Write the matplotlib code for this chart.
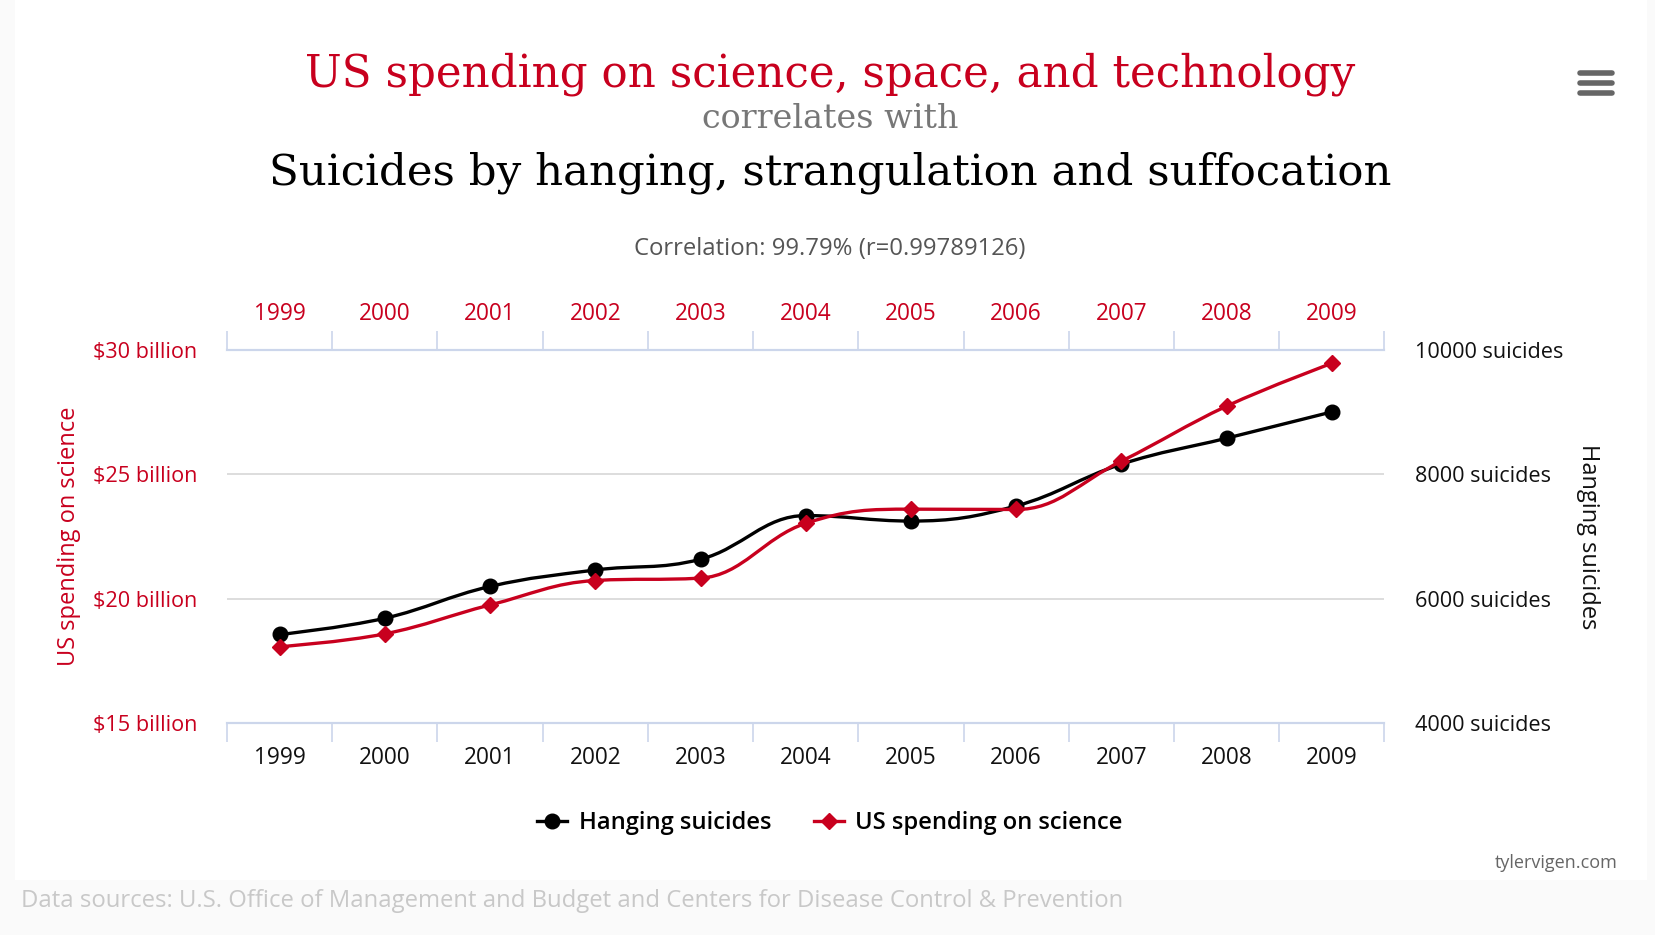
#!/usr/bin/env python3

"""
    US spending on science vs. hanging suicides (1999-2009)
    Dual-axis spline chart in the tylervigen.com style
"""

import matplotlib
matplotlib.use("Agg")
import matplotlib.pyplot as plt
from matplotlib.path import Path
from matplotlib.patches import PathPatch, Rectangle
from matplotlib.lines import Line2D
import numpy as np

plt.rcParams['font.family'] = ['Open Sans', 'DejaVu Sans']

# DATA
years = ['1999', '2000', '2001', '2002', '2003', '2004',
         '2005', '2006', '2007', '2008', '2009']
spending = [18.079, 18.594, 19.753, 20.734, 20.831, 23.029,
            23.597, 23.584, 25.525, 27.731, 29.449]   # billion $
hangings = [5427, 5688, 6198, 6462, 6635, 7336,
            7248, 7491, 8161, 8578, 9000]

spend_ticks = [15, 20, 25, 30]
spend_labels = ['$15 billion', '$20 billion', '$25 billion', '$30 billion']
hang_ticks = [4000, 6000, 8000, 10000]
hang_labels = ['4000 suicides', '6000 suicides', '8000 suicides', '10000 suicides']

RED = '#c8001e'
AXIS_COL = '#ccd6eb'
GRID_COL = '#dadada'


def spline_path(xs, ys, smoothing=1.5):
    """Highcharts-like spline through the points, as a bezier path."""
    xs = np.asarray(xs, float)
    ys = np.asarray(ys, float)
    n = len(xs)
    left = [(xs[i], ys[i]) for i in range(n)]
    right = [(xs[i], ys[i]) for i in range(n)]
    denom = smoothing + 1
    for i in range(1, n - 1):
        lx = (smoothing * xs[i] + xs[i - 1]) / denom
        ly = (smoothing * ys[i] + ys[i - 1]) / denom
        rx = (smoothing * xs[i] + xs[i + 1]) / denom
        ry = (smoothing * ys[i] + ys[i + 1]) / denom
        corr = (ry - ly) * (rx - xs[i]) / (rx - lx) + ys[i] - ry
        ly += corr
        ry += corr
        # avoid overshooting the neighbouring points
        if ly > ys[i - 1] and ly > ys[i]:
            ly = max(ys[i - 1], ys[i])
            ry = 2 * ys[i] - ly
        elif ly < ys[i - 1] and ly < ys[i]:
            ly = min(ys[i - 1], ys[i])
            ry = 2 * ys[i] - ly
        if ry > ys[i + 1] and ry > ys[i]:
            ry = max(ys[i + 1], ys[i])
            ly = 2 * ys[i] - ry
        elif ry < ys[i + 1] and ry < ys[i]:
            ry = min(ys[i + 1], ys[i])
            ly = 2 * ys[i] - ry
        left[i] = (lx, ly)
        right[i] = (rx, ry)
    verts = [(xs[0], ys[0])]
    codes = [Path.MOVETO]
    for i in range(1, n):
        verts += [right[i - 1], left[i], (xs[i], ys[i])]
        codes += [Path.CURVE4] * 3
    return Path(verts, codes)


fig = plt.figure(figsize=(16.56, 9.35), dpi=100, facecolor='#fafafa')
W, H = 1656.0, 935.0

# white card behind the chart
fig.patches.append(Rectangle((15 / W, 1 - 880 / H), (1647 - 15) / W, 880 / H,
                             transform=fig.transFigure, facecolor='white',
                             edgecolor='none', zorder=-1))

ax = fig.add_axes([227 / W, 1 - 723.4 / H, (1384.5 - 227) / W, (723.4 - 349.6) / H])
ax.set_facecolor('none')
ax2 = ax.twinx()
ax2.set_facecolor('none')

x = np.arange(len(years))

ax.set_xlim(-0.5, len(years) - 0.5)
ax.set_ylim(15, 30)
ax2.set_ylim(4000, 10000)

# gridlines
for t in spend_ticks[1:-1]:
    ax2.axhline(4000 + (t - 15) * 400, color=GRID_COL, lw=1.3, zorder=0)

# series
ax2.add_patch(PathPatch(spline_path(x, hangings), facecolor='none',
                        edgecolor='black', lw=2.4, zorder=3))
ax2.plot(x, hangings, 'o', color='black', ms=10.5, zorder=4)
ax.add_patch(PathPatch(spline_path(x, spending), facecolor='none',
                       edgecolor=RED, lw=2.4, zorder=3))
ax.plot(x, spending, 'D', color=RED, ms=8, zorder=4)
ax.set_zorder(ax2.get_zorder() + 1)

# spines
for a in (ax, ax2):
    for s in ('left', 'right'):
        a.spines[s].set_visible(False)
    for s in ('top', 'bottom'):
        a.spines[s].set_color(AXIS_COL)
        a.spines[s].set_linewidth(1.5)

# x ticks: boundaries as major ticks, labels on minor ticks
boundaries = np.arange(-0.5, len(years), 1.0)
ax.set_xticks(boundaries)
ax.set_xticklabels([])
ax.set_xticks(x, minor=True)
ax.set_xticklabels(years, minor=True)
ax.tick_params(axis='x', which='major', length=13.5, width=1.2, color=AXIS_COL,
               top=True, bottom=True, direction='out')
ax.tick_params(axis='x', which='minor', length=0, labelsize=16.3, pad=16,
               labelcolor='#111111', top=False)

top = ax.secondary_xaxis('top')
top.set_xticks(x)
top.set_xticklabels(years)
top.tick_params(length=0, labelsize=16.3, pad=17, labelcolor=RED)
top.spines['top'].set_visible(False)
ax2.tick_params(axis='x', which='both', length=0)

# y axes
ax.set_yticks(spend_ticks)
ax.set_yticklabels(spend_labels)
ax.tick_params(axis='y', length=0, pad=21.5, labelsize=15.6, labelcolor=RED)
ax2.set_yticks(hang_ticks)
ax2.set_yticklabels(hang_labels)
ax2.tick_params(axis='y', length=0, pad=22, labelsize=15.6, labelcolor='#111111')

ax.set_ylabel('US spending on science', color=RED, fontsize=17, labelpad=8.5)
ax2.set_ylabel('Hanging suicides', color='#111111', fontsize=17, rotation=270,
               labelpad=26.5)

# titles
fig.text(830 / W, 1 - 74 / H, 'US spending on science, space, and technology',
         ha='center', va='center', color=RED, fontsize=31.4, family='DejaVu Serif')
fig.text(830 / W, 1 - 119 / H, 'correlates with', ha='center', va='center',
         color='#777777', fontsize=24, family='DejaVu Serif')
fig.text(830 / W, 1 - 173 / H, 'Suicides by hanging, strangulation and suffocation',
         ha='center', va='center', color='black', fontsize=31.3, family='DejaVu Serif')
fig.text(830 / W, 1 - 249 / H, 'Correlation: 99.79% (r=0.99789126)',
         ha='center', va='center', color='#555555', fontsize=17.2)

# legend
handles = [Line2D([], [], color='black', lw=2.4, marker='o', ms=10.5),
           Line2D([], [], color=RED, lw=2.4, marker='D', ms=8)]
fig.legend(handles, ['Hanging suicides', 'US spending on science'],
           loc='center', bbox_to_anchor=(830 / W, 1 - 823 / H), ncol=2,
           frameon=False, handlelength=1.25, columnspacing=1.8, handletextpad=0.5,
           prop={'size': 17.1, 'weight': 'semibold'})

# credits
fig.text(1618 / W, 1 - 863 / H, 'tylervigen.com', ha='right', va='center',
         color='#666666', fontsize=13)
fig.text(21 / W, 1 - 901 / H,
         'Data sources: U.S. Office of Management and Budget and Centers for Disease Control & Prevention',
         ha='left', va='center', color='#c8c8c8', fontsize=17.2)

# menu icon
for yy in (73, 83, 93):
    fig.add_artist(Line2D([1580 / W, 1612 / W], [1 - yy / H, 1 - yy / H],
                          transform=fig.transFigure, color='#666666', lw=4,
                          solid_capstyle='round'))

fig.savefig('out.png', dpi=100, facecolor=fig.get_facecolor())
